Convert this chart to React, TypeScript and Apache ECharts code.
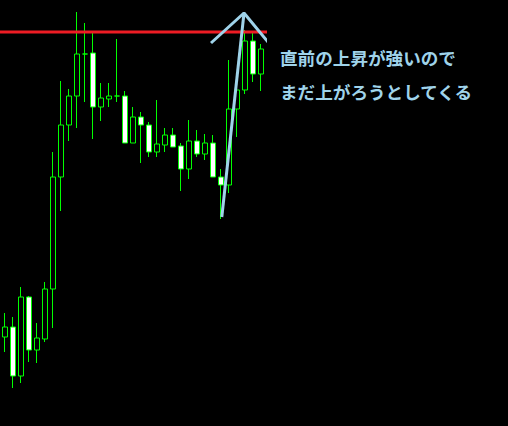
// MT4風ローソク足 + 高値ライン + 矢印注釈
import { useEffect, useRef } from "react";
import * as echarts from "echarts";

// [open, close, low, high]
const candles: number[][] = [
  [89, 99, 74, 113],
  [99, 50, 38, 109],
  [50, 129, 43, 139],
  [129, 76, 64, 130],
  [76, 88, 63, 103],
  [87, 137, 84, 144],
  [137, 249, 98, 274],
  [249, 301, 215, 345],
  [301, 330, 285, 337],
  [330, 372, 298, 414],
  [372, 372, 324, 403],
  [373, 319, 287, 393],
  [319, 328, 305, 343],
  [327, 330, 319, 343],
  [330, 330, 324, 387],
  [330, 283, 283, 335],
  [283, 309, 283, 319],
  [309, 301, 263, 314],
  [301, 274, 269, 304],
  [274, 282, 269, 326],
  [281, 291, 274, 298],
  [291, 279, 279, 298],
  [280, 257, 235, 283],
  [257, 285, 247, 306],
  [285, 272, 269, 296],
  [272, 283, 266, 292],
  [283, 249, 249, 291],
  [249, 241, 207, 257],
  [241, 317, 233, 366],
  [317, 336, 289, 351],
  [336, 385, 332, 396],
  [385, 352, 344, 393],
  [352, 377, 335, 382],
];
const categories = candles.map((_, i) => String(i + 1));

// 水平線 (左端〜右端, bar index)
const resistance = 394;
const resistanceSpan = [-0.7, 63];

// 矢印: [bar index, price]
const arrowHead: number[][] = [
  [25.75, 383],
  [29.875, 413],
  [32.875, 384],
];
const arrowShaft: number[][] = [
  [27.1, 209],
  [29.875, 413],
];

const noteLines = ["直前の上昇が強いので", "まだ上がろうとしてくる"];

const BLUE = "#9fd3ea";

export default function App() {
  const ref = useRef<HTMLDivElement>(null);

  useEffect(() => {
    if (!ref.current) return;
    const chart = echarts.init(ref.current, undefined, { renderer: "svg" });
    chart.setOption({
      animation: false,
      backgroundColor: "#000",
      grid: { left: 1, top: 0, width: 264, bottom: 0 },
      xAxis: [
        { type: "category", data: categories, show: false },
        { type: "value", min: -0.5, max: 32.5, show: false },
      ],
      yAxis: { type: "value", min: 0, max: 426, show: false },
      series: [
        {
          type: "line",
          xAxisIndex: 1,
          data: resistanceSpan.map((x) => [x, resistance]),
          clip: false,
          showSymbol: false,
          lineStyle: { color: "#ee1c24", width: 3 },
        },
        {
          type: "candlestick",
          data: candles,
          barWidth: 5,
          itemStyle: {
            color: "#000",
            color0: "#fff",
            borderColor: "#00ff00",
            borderColor0: "#00ff00",
            borderWidth: 1,
          },
        },
        {
          type: "line",
          xAxisIndex: 1,
          data: arrowHead,
          clip: false,
          showSymbol: false,
          lineStyle: { color: BLUE, width: 3 },
        },
        {
          type: "line",
          xAxisIndex: 1,
          data: arrowShaft,
          clip: false,
          showSymbol: false,
          lineStyle: { color: BLUE, width: 3 },
        },
      ],
      graphic: noteLines.map((t, i) => ({
        type: "text",
        x: 280,
        y: 57 + i * 34,
        style: {
          text: t,
          fill: BLUE,
          fontSize: 17.6,
          fontWeight: "bold",
          fontFamily: "Noto Sans CJK JP",
          verticalAlign: "middle",
        },
      })),
    });
    return () => chart.dispose();
  }, []);

  return (
    <div
      ref={ref}
      style={{ position: "fixed", left: 0, top: 0, width: 508, height: 426 }}
    />
  );
}
